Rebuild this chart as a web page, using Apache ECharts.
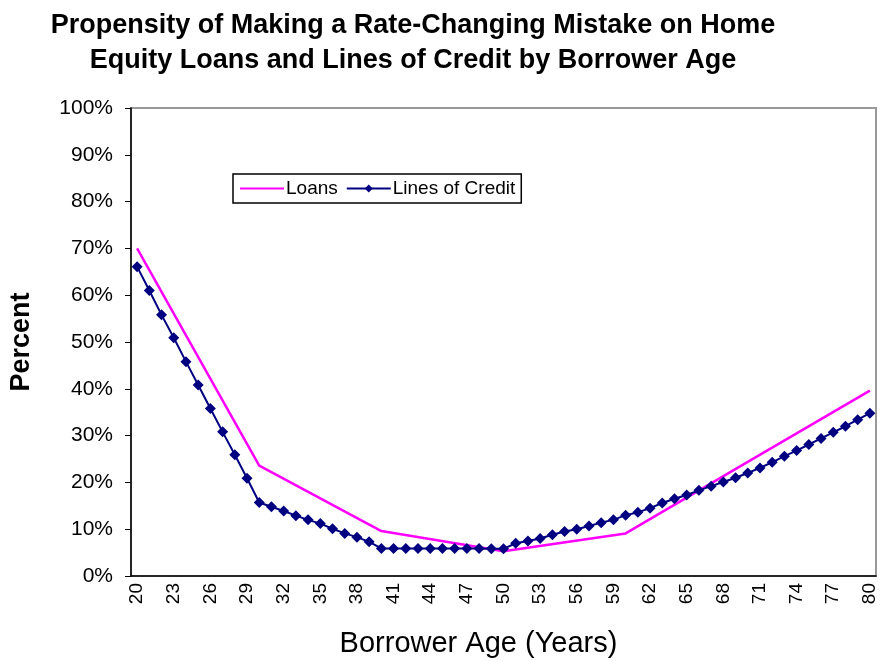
<!DOCTYPE html>
<html>
<head>
<meta charset="utf-8">
<script src="https://cdn.jsdelivr.net/npm/echarts@6/dist/echarts.min.js"></script>
<style>
  html, body { margin: 0; padding: 0; background: #fff; }
  #chart { width: 881px; height: 661px; }
</style>
</head>
<body>
<div id="chart"></div>
<script>
var ages = [];
for (var a = 20; a <= 80; a++) ages.push(String(a));

// loans only reported at the decade points, line joins them
var loans = [
  70.0, null, null, null, null, null, null, null, null, null,
  23.6, null, null, null, null, null, null, null, null, null,
  9.6, null, null, null, null, null, null, null, null, null,
  5.3, null, null, null, null, null, null, null, null, null,
  9.1, null, null, null, null, null, null, null, null, null,
  24.4, null, null, null, null, null, null, null, null, null,
  39.6
];

var linesOfCredit = [
  66.1, 61.0, 55.8, 50.9, 45.8, 40.8, 35.8, 30.8, 25.9, 20.9,
  15.7, 14.8, 13.9, 12.9, 12.0, 11.2, 10.1, 9.1, 8.3, 7.3,
  5.9, 5.9, 5.9, 5.9, 5.9, 5.9, 5.9, 5.9, 5.9, 5.8,
  5.8, 7.0, 7.5, 8.0, 8.8, 9.5, 10.0, 10.7, 11.4, 12.0,
  13.0, 13.6, 14.5, 15.6, 16.5, 17.3, 18.3, 19.2, 20.1, 21.0,
  22.0, 23.1, 24.3, 25.6, 26.8, 28.1, 29.4, 30.7, 32.0, 33.4,
  34.8
];

var chart = echarts.init(document.getElementById('chart'));
var option = {
  animation: false,
  backgroundColor: '#fff',
  textStyle: { fontFamily: 'Liberation Sans, Arial, sans-serif' },
  title: {
    text: 'Propensity of Making a Rate-Changing Mistake on Home\nEquity Loans and Lines of Credit by Borrower Age',
    left: 408,
    top: 3,
    textAlign: 'center',
    textStyle: { fontSize: 27, fontWeight: 'bold', color: '#000', lineHeight: 35 }
  },
  legend: {
    left: 233,
    top: 174,
    orient: 'horizontal',
    data: [
      { name: 'Loans', itemStyle: { opacity: 0 } },
      { name: 'Lines of Credit' }
    ],
    borderColor: '#000',
    borderWidth: 1.5,
    padding: [5, 6],
    itemGap: 8,
    itemWidth: 44,
    itemHeight: 10,
    textStyle: { fontSize: 19, color: '#000', padding: [0, 0, 0, -3] }
  },
  grid: {
    left: 131,
    right: 5,
    top: 108,
    bottom: 85,
    show: true,
    borderColor: '#999',
    borderWidth: 2,
    containLabel: false,
    outerBoundsMode: 'none'
  },
  xAxis: {
    type: 'category',
    data: ages,
    boundaryGap: true,
    name: 'Borrower Age (Years)',
    nameLocation: 'middle',
    nameGap: 53,
    nameTextStyle: { fontSize: 29, color: '#000', padding: [0, 50, 0, 0] },
    axisLine: { lineStyle: { color: '#000', width: 1.5 } },
    axisTick: { interval: 0, length: 6, lineStyle: { color: '#000' } },
    axisLabel: { interval: 2, rotate: 90, fontSize: 19, color: '#000', margin: 7 },
    splitLine: { show: false }
  },
  yAxis: {
    type: 'value',
    min: 0,
    max: 100,
    interval: 10,
    name: 'Percent',
    nameLocation: 'middle',
    nameRotate: 90,
    nameGap: 96,
    nameTextStyle: { fontSize: 27, fontWeight: 'bold', color: '#000' },
    axisLine: { show: true, lineStyle: { color: '#000', width: 1.5 } },
    axisTick: { show: true, length: 6, lineStyle: { color: '#000' } },
    axisLabel: { formatter: '{value}%', fontSize: 21, color: '#000', margin: 18 },
    splitLine: { show: false }
  },
  series: [
    {
      name: 'Loans',
      type: 'line',
      data: loans,
      connectNulls: true,
      symbol: 'none',
      color: '#ff00ff',
      lineStyle: { color: '#ff00ff', width: 2.5 },
      z: 2
    },
    {
      name: 'Lines of Credit',
      type: 'line',
      data: linesOfCredit,
      symbol: 'diamond',
      symbolSize: 11,
      showAllSymbol: true,
      color: '#000080',
      itemStyle: { color: '#000080' },
      lineStyle: { color: '#000080', width: 2 },
      z: 3
    }
  ]
};
chart.setOption(option);
</script>
</body>
</html>
